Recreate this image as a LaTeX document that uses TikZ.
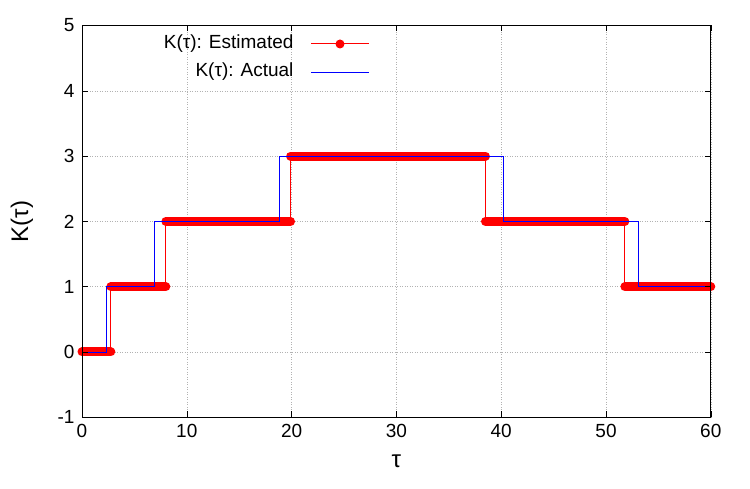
\documentclass[tikz,border=0pt]{standalone}
\usepackage{fontspec}
\setmainfont{Liberation Sans}
\usetikzlibrary{positioning,calc}
\tikzset{
	gridline/.style={gray!60, dotted, line width=0.5pt},
	est/.style={red, line width=1pt},
	estbar/.style={red, line width=9pt, line cap=round},
	act/.style={blue, line width=0.8pt},
	ticklab/.style={font=\fontsize{19}{19}\selectfont},
}
\begin{document}
\begin{tikzpicture}[x=10.48pt, y=65.3pt]
	\useasboundingbox (-82pt,-137pt) rectangle (668pt,352pt);
	% grid
	\foreach \k in {-1,...,5}
		\draw[gridline] (0,\k) -- (60,\k);
	\foreach \t in {0,10,...,60}
		\draw[gridline] (\t,-1) -- (\t,5);
	% estimated
	\draw[est] (0,0) -- (2.75,0) -- (2.75,1) -- (8,1) -- (8,2) -- (19.9,2) -- (19.9,3)
		-- (38.5,3) -- (38.5,2) -- (51.8,2) -- (51.8,1) -- (60,1);
	\draw[estbar] (0,0) -- (2.75,0);
	\draw[estbar] (2.75,1) -- (8,1);
	\draw[estbar] (8,2) -- (19.9,2);
	\draw[estbar] (19.9,3) -- (38.5,3);
	\draw[estbar] (38.5,2) -- (51.8,2);
	\draw[estbar] (51.8,1) -- (60,1);
	% actual
	\draw[act] (0,0) -- (2.3,0) -- (2.3,1) -- (6.9,1) -- (6.9,2) -- (18.8,2) -- (18.8,3)
		-- (40.2,3) -- (40.2,2) -- (53.1,2) -- (53.1,1) -- (60,1);
	% frame and ticks
	\draw[line width=0.8pt] (0,-1) rectangle (60,5);
	\foreach \k in {-1,...,5} {
		\draw (0,\k) -- ++(6pt,0);
		\draw (60,\k) -- ++(-6pt,0);
		\node[ticklab, left=4pt] (ylab\k) at (0,\k) {\k};
	}
	\foreach \t in {0,10,...,60} {
		\draw (\t,-1) -- ++(0,6pt);
		\draw (\t,5) -- ++(0,-6pt);
		\node[ticklab, below=3pt] (xlab\t) at (\t,-1) {\t};
	}
	\node[font=\fontsize{24}{24}\selectfont, rotate=90] (ytitle) at (-60pt,2) {K(τ)};
	\node[font=\fontsize{24}{24}\selectfont] (xtitle) at (30,-109pt) {τ};
	% legend
	\node[ticklab, anchor=east] (legest) at (215pt,308pt) {K(τ): Estimated};
	\node[ticklab, anchor=east] (legact) at (215pt,280pt) {K(τ): Actual};
	\coordinate (estA) at (229pt,308pt);
	\coordinate (estB) at (287pt,308pt);
	\coordinate (actA) at (229pt,280pt);
	\coordinate (actB) at (287pt,280pt);
	\draw[est] (estA) -- (estB);
	\fill[red] ($(estA)!0.5!(estB)$) circle (4.5pt);
	\draw[act] (actA) -- (actB);
\end{tikzpicture}
\end{document}
